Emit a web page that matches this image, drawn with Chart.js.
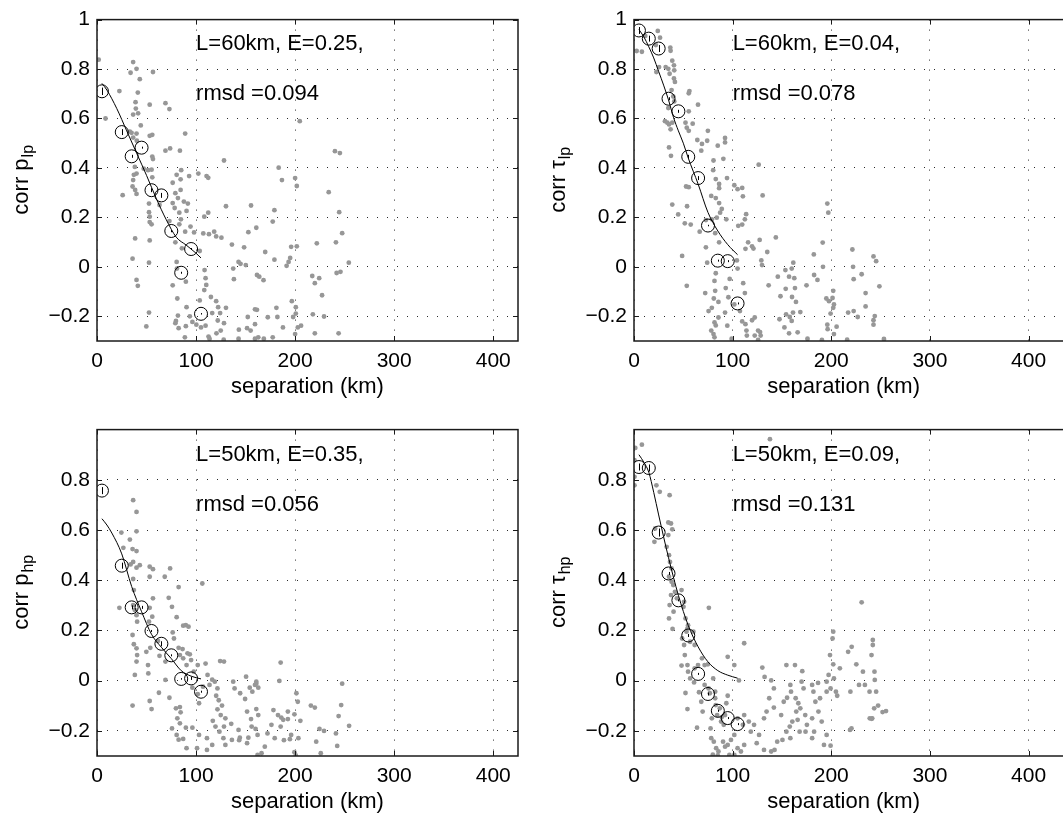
<!DOCTYPE html>
<html>
<head>
<meta charset="utf-8">
<title>corr vs separation</title>
<style>
  html, body { margin: 0; padding: 0; background: #fff; overflow: hidden; width: 1063px; height: 818px; position: relative; }
  canvas { position: absolute; }
</style>
</head>
<body>
<canvas id="tl" width="530" height="410" style="left:0;top:0"></canvas>
<canvas id="tr" width="560" height="410" style="left:530px;top:0"></canvas>
<canvas id="bl" width="530" height="408" style="left:0;top:410px"></canvas>
<canvas id="br" width="560" height="408" style="left:530px;top:410px"></canvas>

<script src="https://cdn.jsdelivr.net/npm/chart.js@4.4.1/dist/chart.umd.min.js"></script>
<script>
// ---- axes ----
const xTicks = [0, 100, 200, 300, 400];
const yTicksTop = [-0.2, 0, 0.2, 0.4, 0.6, 0.8, 1];
const yTicksBottom = [-0.2, 0, 0.2, 0.4, 0.6, 0.8];
const xTitle = 'separation (km)';

// ---- corr p_lp (top left) ----
const plpDots = [[1.7,0.838],[8.6,0.6],[22.6,0.711],[36.5,0.828],[33.9,0.785],[39.9,0.801],[43.2,0.759],[56.5,0.788],[41.2,0.705],[38.9,0.666],[39.2,0.64],[36.5,0.616],[41.5,0.621],[44.2,0.572],[53.2,0.656],[69.1,0.662],[73.1,0.638],[33.2,0.547],[34.9,0.542],[39.9,0.539],[36.5,0.523],[40.2,0.51],[53.2,0.53],[55.8,0.534],[55.8,0.446],[56.5,0.436],[69.1,0.47],[73.8,0.479],[83.7,0.47],[89,0.539],[128.2,0.43],[38.2,0.404],[37.2,0.372],[39.9,0.377],[36.5,0.351],[35.9,0.325],[38.5,0.311],[39.9,0.295],[25.9,0.29],[47.2,0.397],[51.5,0.391],[55.1,0.393],[55.8,0.362],[76.4,0.34],[80.4,0.372],[85,0.391],[84.4,0.354],[84.4,0.311],[79.1,0.298],[81.7,0.278],[76.4,0.258],[78.4,0.238],[87.7,0.264],[91.7,0.256],[90.4,0.226],[83.1,0.219],[93,0.367],[102.3,0.377],[110.6,0.367],[112.3,0.36],[52.5,0.256],[52.5,0.221],[53.2,0.203],[53.2,0.181],[55.1,0.172],[63.1,0.25],[84.7,0.192],[89,0.142],[94.4,0.163],[83.1,0.172],[73.1,0.185],[79.1,0.099],[85.7,0.075],[38.5,0.115],[53.2,0.107],[35.9,0.033],[52.5,0.017],[39.9,-0.053],[41.2,-0.077],[52.5,-0.185],[49.8,-0.241],[76.4,-0.075],[80.4,0.02],[80.7,-0.007],[89.7,-0.06],[81.1,-0.128],[81.7,-0.197],[90.4,-0.163],[79.7,-0.219],[79.1,-0.228],[89.7,-0.24],[82.4,-0.248],[88.7,-0.285],[93.7,-0.2],[96.3,-0.223],[100.3,-0.234],[105,-0.245],[109.6,-0.238],[112.6,-0.282],[113.6,-0.291],[108.6,-0.013],[109.6,-0.046],[110.3,-0.073],[108.3,-0.094],[103.7,-0.136],[115,-0.122],[122.3,-0.163],[120.3,-0.139],[116.3,-0.187],[124.3,-0.187],[130.2,-0.166],[121.9,-0.217],[128.2,-0.228],[124.9,-0.258],[127.9,-0.295],[120.6,-0.269],[103.7,0.064],[98,0.139],[107.3,0.135],[113,0.132],[118.3,0.142],[120.3,0.123],[125.6,0.118],[112.3,0.219],[108.3,0.203],[130.2,0.245],[136.2,0.09],[137.5,-0.007],[138.2,-0.05],[144.9,0.012],[148.5,0.079],[142.9,0.02],[150.2,0.007],[152.8,0.14],[155.5,0.248],[160.8,0.158],[161.5,-0.033],[163.8,-0.04],[168.1,-0.054],[169.8,0.06],[159.5,-0.172],[161.5,-0.174],[159.5,-0.232],[152.2,-0.203],[151.5,-0.248],[155.1,-0.258],[143.2,-0.254],[142.9,-0.291],[159.5,-0.291],[162.8,-0.285],[168.4,-0.291],[177.4,-0.285],[172.4,-0.204],[181.1,-0.166],[177.4,0.183],[179.1,0.229],[183.4,0.401],[186.7,0.351],[179.1,0.029],[191.4,0.004],[193.4,0.02],[195,0.036],[196,0.081],[200,0.359],[201.7,0.327],[201.7,0.083],[204.7,0.589],[196.7,-0.139],[200.7,-0.163],[200.7,-0.189],[198,-0.203],[202.7,-0.245],[206,-0.238],[200,-0.272],[187.7,-0.245],[182.1,-0.203],[217.3,-0.037],[217.9,-0.192],[219.9,-0.066],[224.3,-0.046],[227.2,-0.115],[229.2,-0.201],[219.9,-0.269],[221.9,0.095],[233.9,0.302],[240.2,0.468],[245.2,0.46],[244.5,0.221],[247.5,0.136],[241.2,0.099],[241.9,-0.025],[245.8,-0.02],[254.2,0.017],[243.9,-0.269]];
const plpBinX = [5, 25, 35, 45, 55, 65, 75, 85, 95, 105];
const plpBinY = [0.71, 0.545, 0.447, 0.482, 0.31, 0.289, 0.145, -0.024, 0.072, -0.19];
const plpBinErr = [0.015, 0.012, 0.006, 0.004, 0.008, 0.01, 0.005, 0.004, 0.004, 0.003];
const plpFitX = [5, 10, 20, 30, 40, 50, 60, 70, 80, 90, 100, 105];
const plpFitY = [0.742, 0.715, 0.64, 0.55, 0.46, 0.37, 0.275, 0.19, 0.12, 0.088, 0.055, 0.036];
const plpText = ['L=60km, E=0.25,', 'rmsd =0.094'];

// ---- corr tau_lp (top right) ----
const tlpDots = [[2.7,0.873],[8,0.87],[11.4,0.934],[24.1,0.954],[26.4,0.927],[22.1,0.897],[22.7,0.788],[25.4,0.808],[32.1,0.808],[34.8,0.801],[36.8,0.887],[37.1,0.874],[38.8,0.834],[36.1,0.781],[40.5,0.815],[40.8,0.795],[40.5,0.762],[41.5,0.748],[38.1,0.715],[39.8,0.689],[40.8,0.669],[34.8,0.642],[31.4,0.589],[33.8,0.583],[35.5,0.576],[37.1,0.556],[38.8,0.583],[56.2,0.711],[55.5,0.702],[64.9,0.656],[55.5,0.629],[52.2,0.583],[53.5,0.563],[55.5,0.55],[59.5,0.579],[74.9,0.55],[74.2,0.51],[84.9,0.49],[92.3,0.521],[92.3,0.503],[64.2,0.513],[68.9,0.497],[68.2,0.47],[80.6,0.43],[90.6,0.437],[35.5,0.483],[37.5,0.449],[126.4,0.413],[80.3,0.391],[82.9,0.355],[86.3,0.335],[94.3,0.359],[86.3,0.318],[78.3,0.287],[82.9,0.278],[86.3,0.258],[89,0.234],[101.7,0.33],[105,0.314],[109.7,0.319],[52.8,0.325],[55.5,0.322],[38.8,0.252],[44.8,0.212],[53.8,0.245],[51.5,0.176],[57.5,0.171],[66.6,0.142],[72.9,0.189],[78.9,0.192],[83.9,0.199],[87.3,0.219],[93.6,0.192],[82.3,0.136],[86.3,0.099],[72.9,0.079],[74.2,0.017],[48.8,0.044],[53.5,-0.077],[82.9,-0.026],[81.6,-0.057],[82.3,-0.097],[80.9,-0.128],[85.6,-0.142],[93,-0.086],[95.7,-0.123],[97,-0.049],[72.2,-0.106],[75.6,-0.179],[78.9,-0.166],[81.6,-0.225],[82.9,-0.237],[78.3,-0.258],[80.6,-0.272],[81.6,-0.285],[85.6,-0.205],[92.3,-0.185],[94.6,-0.238],[99,-0.291],[101.7,-0.152],[110.7,-0.066],[112.4,-0.106],[107.4,-0.179],[109.7,-0.221],[113,-0.232],[119.7,-0.216],[122.4,-0.205],[114,-0.258],[114.4,-0.278],[122.4,-0.278],[125.8,-0.258],[127.8,-0.264],[128.4,-0.278],[125.8,-0.296],[104.3,0.026],[105,-0.007],[113,0.073],[115.7,0.099],[119.7,0.083],[121.1,0.074],[105.7,0.166],[109.7,0.171],[112.4,0.192],[113.7,0.213],[110.4,0.285],[130.4,0.289],[127.4,0.109],[135.1,0.06],[129.1,0.026],[129.8,0.007],[143.8,0.119],[136.5,-0.075],[145.8,-0.04],[148.5,-0.119],[153.5,-0.013],[157.2,-0.04],[159.9,-0.007],[161.5,0.017],[162.5,-0.046],[163.2,-0.086],[160.2,-0.122],[164.2,-0.142],[174.9,-0.075],[153.8,-0.089],[154.2,-0.192],[157.9,-0.203],[161.2,-0.185],[168.6,-0.183],[159.9,-0.219],[147.5,-0.212],[152.5,-0.245],[157.2,-0.269],[165.9,-0.265],[175.9,-0.291],[182.3,0.05],[191.3,0.098],[196,0.256],[197,0.219],[191.6,0],[186,-0.053],[182.6,-0.033],[197.7,-0.139],[195,-0.128],[202,-0.097],[201.3,-0.126],[202,-0.166],[202.7,-0.152],[199.3,-0.189],[196,-0.234],[196.3,-0.252],[205.4,-0.242],[202.7,-0.272],[190.5,-0.296],[221.4,0.07],[222.7,-0.05],[222.1,0],[230.8,-0.03],[234.8,-0.106],[234.8,-0.16],[217.1,-0.185],[222.7,-0.179],[226.8,-0.203],[242.8,0.042],[245.5,0.023],[248.8,-0.079],[242.8,-0.216],[242.8,-0.234],[244.1,-0.199],[216.1,-0.295],[253.4,-0.292]];
const tlpBinX = [5, 15, 25, 35, 45, 55, 65, 75, 85, 95, 105];
const tlpBinY = [0.956, 0.923, 0.883, 0.68, 0.629, 0.445, 0.359, 0.167, 0.025, 0.023, -0.148];
const tlpBinErr = [0.014, 0.012, 0.014, 0.006, 0.006, 0.008, 0.008, 0.003, 0.004, 0.004, 0.004];
const tlpFitX = [5, 10, 15, 20, 25, 30, 35, 40, 45, 50, 55, 65, 75, 85, 95, 105];
const tlpFitY = [0.96, 0.93, 0.89, 0.845, 0.79, 0.735, 0.675, 0.605, 0.55, 0.5, 0.44, 0.335, 0.22, 0.145, 0.09, 0.049];
const tlpText = ['L=60km, E=0.04,', 'rmsd =0.078'];

// ---- corr p_hp (bottom left) ----
const phpDots = [[36.5,0.719],[39.9,0.672],[39.9,0.595],[24.6,0.59],[26.6,0.529],[33.2,0.562],[35.9,0.524],[39.9,0.516],[36.5,0.473],[33.9,0.463],[39.9,0.45],[43.2,0.46],[53.2,0.454],[56.5,0.444],[53.2,0.414],[73.8,0.447],[68.4,0.414],[36.5,0.405],[37.2,0.361],[82.4,0.373],[106.3,0.387],[22.6,0.29],[36.5,0.301],[38.2,0.281],[39.9,0.261],[40.5,0.235],[56.5,0.328],[53.2,0.29],[55.8,0.255],[52.5,0.235],[72.4,0.33],[75.7,0.294],[80.4,0.253],[87,0.219],[89.7,0.221],[92.4,0.215],[76.4,0.192],[77.7,0.168],[35.9,0.182],[37.2,0.145],[39.9,0.129],[40.5,0.102],[39.9,0.076],[38.2,0.023],[49.8,0.115],[53.8,0.131],[51.5,0.062],[51.8,0.029],[61.5,0.158],[63.1,0.099],[69.1,0.076],[69.1,0.003],[82.4,0.131],[83.7,0.102],[86.4,0.126],[87,0.089],[91.4,0.109],[93.7,0.105],[90.4,0.062],[95,0.082],[97.7,0.036],[101.7,0.062],[109.6,0.068],[111.6,0.023],[124.3,0.078],[128.2,0.076],[150.5,0.016],[160.8,-0.012],[162.8,-0.028],[185.4,0.072],[184.1,-0.001],[247.5,-0.012],[62.5,-0.048],[53.2,-0.081],[55.1,-0.113],[35.9,-0.099],[73.1,-0.068],[79.7,-0.11],[83.7,-0.105],[84.4,-0.126],[81.1,-0.15],[83.7,-0.17],[75.7,-0.19],[80.4,-0.216],[82.4,-0.235],[89.7,-0.187],[96.3,-0.187],[87,-0.232],[90.4,-0.269],[96.3,-0.028],[101.7,-0.054],[103,-0.09],[107,-0.024],[113.6,-0.017],[116.3,0.004],[118.9,-0.004],[121.6,-0.031],[120.3,-0.06],[122.9,-0.078],[126.2,-0.099],[121.6,-0.114],[124.9,-0.137],[116.9,-0.16],[119.6,-0.183],[123.6,-0.203],[128.2,-0.183],[129.6,-0.15],[135.5,-0.172],[137.5,-0.004],[138.9,-0.031],[144.5,-0.05],[149.5,-0.073],[154.2,-0.028],[156.8,-0.044],[159.5,-0.017],[160.8,-0.004],[151.5,-0.123],[155.5,-0.153],[160.8,-0.113],[162.8,-0.137],[156.1,-0.183],[160.1,-0.192],[162.1,-0.216],[142.9,-0.196],[144.2,-0.227],[143.5,-0.237],[152.8,-0.227],[151.5,-0.249],[136.2,-0.236],[127.6,-0.229],[129.6,-0.256],[116.3,-0.256],[111,-0.229],[103,-0.216],[111,-0.276],[101,-0.269],[169.4,-0.263],[166.1,-0.289],[162.1,-0.296],[172.1,-0.21],[176.1,-0.176],[178.1,-0.117],[182.7,-0.137],[186,-0.147],[188,-0.156],[185.4,-0.183],[192.7,-0.153],[192.7,-0.123],[199.3,-0.134],[201.3,-0.05],[202.7,-0.084],[205.3,-0.16],[196,-0.216],[194.7,-0.233],[203.3,-0.229],[199.3,-0.285],[200.7,-0.298],[215.9,-0.099],[219.9,-0.107],[224.6,-0.192],[229.2,-0.2],[221.3,-0.243],[225.9,-0.289],[241.2,-0.21],[243.9,-0.141],[246.5,-0.097],[254.5,-0.18],[242.5,-0.26],[188.7,-0.237],[179.4,-0.229]];
const phpBinX = [5, 25, 35, 45, 55, 65, 75, 85, 95, 105];
const phpBinY = [0.757, 0.458, 0.292, 0.292, 0.198, 0.147, 0.101, 0.007, 0.009, -0.044];
const phpBinErr = [0.014, 0.012, 0.008, 0.006, 0.004, 0.01, 0.004, 0.003, 0.006, 0.004];
const phpFitX = [5, 10, 15, 25, 35, 45, 55, 65, 75, 85, 95, 105];
const phpFitY = [0.645, 0.62, 0.588, 0.505, 0.375, 0.275, 0.185, 0.133, 0.088, 0.04, 0.018, 0.007];
const phpText = ['L=50km, E=0.35,', 'rmsd =0.056'];

// ---- corr tau_hp (bottom right) ----
const thpDots = [[1.3,0.927],[8,0.94],[0.5,0.812],[0.5,0.778],[0.5,0.878],[137.8,0.962],[22.7,0.778],[26.1,0.752],[36.1,0.739],[34.8,0.63],[37.5,0.626],[38.8,0.603],[21.4,0.606],[20.7,0.553],[34.8,0.58],[33.1,0.533],[35.5,0.5],[36.5,0.473],[38.1,0.447],[35.5,0.414],[38.1,0.394],[39.8,0.381],[41.5,0.354],[37.5,0.341],[36.1,0.301],[35.5,0.248],[39.1,0.206],[40.1,0.275],[43.5,0.328],[48.2,0.361],[50.8,0.314],[50.2,0.294],[52.2,0.248],[54.8,0.221],[54.2,0.208],[53.2,0.195],[48.8,0.168],[50.8,0.142],[51.5,0.102],[48.2,0.06],[56.9,0.155],[75.9,0.29],[60.2,0.195],[61.5,0.142],[54.2,0.062],[54.8,0.036],[61.5,0.049],[64.9,0.062],[68.9,0.089],[71.6,0.062],[74.9,0.065],[56.9,0.009],[60.9,-0.007],[65.9,-0.046],[68.2,-0.084],[69.6,-0.123],[52.2,-0.049],[54.2,-0.113],[63.9,-0.187],[71.6,-0.017],[75.6,-0.031],[76.9,-0.05],[80.3,0.009],[82.3,-0.044],[82.3,-0.07],[82.9,-0.097],[84.3,-0.137],[87,-0.11],[89,-0.145],[91,-0.176],[88.3,-0.163],[92.3,-0.137],[93.6,-0.09],[95,-0.06],[78.9,-0.15],[77.6,-0.19],[78.3,-0.229],[80.9,-0.243],[83.3,-0.269],[85.6,-0.282],[79.9,-0.295],[84.9,-0.298],[90.3,-0.243],[92.3,-0.263],[95,-0.256],[98.3,-0.236],[101.7,-0.216],[96.7,-0.296],[101.7,-0.296],[105,-0.269],[108.4,-0.282],[111.7,-0.256],[105,-0.15],[111.7,-0.137],[110.4,-0.176],[116.4,-0.163],[106.4,0.001],[111.7,0.149],[95,0.095],[101.7,0.062],[130.1,0.052],[132.4,0.015],[139.1,0.001],[141.8,-0.031],[137.1,-0.07],[134.4,-0.123],[131.8,-0.15],[141.8,-0.107],[149.2,-0.137],[151.8,-0.084],[155.2,-0.068],[154.5,0.062],[163.2,0.062],[158.5,-0.017],[159.2,-0.044],[163.9,-0.07],[166.6,-0.09],[164.5,-0.123],[165.9,-0.156],[160.5,-0.163],[157.9,-0.183],[154.5,-0.203],[158.5,-0.229],[150.5,-0.236],[145.2,-0.243],[142.5,-0.276],[139.1,-0.282],[131.8,-0.276],[124.4,-0.249],[126.8,-0.216],[118.4,-0.203],[121.7,-0.176],[170.6,0.038],[169.9,-0.004],[171.9,-0.031],[168.6,-0.11],[173.6,-0.137],[175.3,-0.176],[173.9,-0.203],[167.9,-0.203],[180.6,-0.017],[181.9,-0.044],[186.6,-0.009],[183.9,-0.084],[188.6,-0.07],[187,-0.123],[180.6,-0.15],[182.6,-0.203],[180.6,-0.229],[190.3,-0.163],[192.6,-0.256],[195.3,-0.004],[195.3,-0.044],[198.7,0.102],[197.3,0.023],[199.3,-0.031],[202,0.195],[201.3,0.168],[202,0.065],[202.7,0.009],[204.7,-0.044],[206,-0.06],[208.7,0.049],[195.3,-0.216],[199.3,-0.259],[217.1,0.115],[220.7,0.135],[225.4,0.065],[232.1,0.036],[230.8,0.312],[234.1,-0.017],[240.8,0.102],[242.1,0.162],[242.1,0.142],[243.8,0.036],[244.1,0.003],[245.5,-0.044],[241.5,-0.15],[243.5,-0.11],[247.5,-0.099],[255.5,-0.121],[238.8,-0.044],[228.1,-0.017],[219.4,-0.044],[239,-0.15],[241,-0.152],[219,-0.196],[220.5,-0.19],[252,-0.125]];
const thpBinX = [5, 15, 25, 35, 45, 55, 65, 75, 85, 95, 105];
const thpBinY = [0.851, 0.847, 0.59, 0.427, 0.32, 0.18, 0.027, -0.053, -0.12, -0.149, -0.173];
const thpBinErr = [0.014, 0.014, 0.016, 0.006, 0.004, 0.006, 0.004, 0.006, 0.004, 0.004, 0.004];
const thpFitX = [5, 10, 15, 20, 25, 35, 45, 55, 65, 75, 85, 95, 105];
const thpFitY = [0.9, 0.87, 0.83, 0.75, 0.66, 0.49, 0.34, 0.22, 0.135, 0.075, 0.04, 0.022, 0.01];
const thpText = ['L=50km, E=0.09,', 'rmsd =0.131'];

const FONT = '"Liberation Sans", Arial, Helvetica, sans-serif';
const DOT = '#979797';

function fmt(v) {
  if (v < 0) return '\u2212' + String(Math.abs(v));
  return String(v);
}

// box, inside ticks, error bars, labels
const deco = {
  id: 'deco',
  afterDatasetsDraw(chart, args, o) {
    const {ctx, scales: {x, y}} = chart;
    ctx.save();
    ctx.strokeStyle = '#000';
    ctx.lineWidth = 1;
    o.binX.forEach((bx, i) => {
      const px = Math.round(x.getPixelForValue(bx)) + 0.5;
      ctx.beginPath();
      ctx.moveTo(px, y.getPixelForValue(o.binY[i] - o.err[i]));
      ctx.lineTo(px, y.getPixelForValue(o.binY[i] + o.err[i]));
      ctx.stroke();
    });
    ctx.restore();
  },
  afterDraw(chart, args, o) {
    const {ctx, chartArea: a, scales: {x, y}} = chart;
    ctx.save();
    ctx.strokeStyle = '#1a1a1a';
    ctx.lineWidth = 1;
    ctx.beginPath();
    x.ticks.forEach(t => {
      const px = Math.round(x.getPixelForValue(t.value)) + 0.5;
      ctx.moveTo(px, a.bottom); ctx.lineTo(px, a.bottom - 5);
      ctx.moveTo(px, a.top); ctx.lineTo(px, a.top + 5);
    });
    y.ticks.forEach(t => {
      const py = Math.round(y.getPixelForValue(t.value)) + 0.5;
      ctx.moveTo(a.left, py); ctx.lineTo(a.left + 5, py);
      ctx.moveTo(a.right, py); ctx.lineTo(a.right - 5, py);
    });
    ctx.stroke();
    ctx.lineWidth = 1.5;
    ctx.strokeRect(a.left, a.top, a.right - a.left, a.bottom - a.top);

    ctx.fillStyle = '#000';
    ctx.font = '22px ' + FONT;
    ctx.textAlign = 'left';
    ctx.textBaseline = 'middle';
    ctx.fillText(o.text[0], x.getPixelForValue(100), y.getPixelForValue(0.9));
    ctx.fillText(o.text[1], x.getPixelForValue(100), y.getPixelForValue(0.7));

    ctx.textAlign = 'center';
    ctx.fillText(xTitle, (x.getPixelForValue(0) + x.getPixelForValue(425)) / 2, a.bottom + 46);

    ctx.translate(a.left - 75, (a.top + a.bottom) / 2);
    ctx.rotate(-Math.PI / 2);
    ctx.textAlign = 'left';
    const w1 = ctx.measureText(o.yTitle[0]).width;
    ctx.font = '16px ' + FONT;
    const w2 = ctx.measureText(o.yTitle[1]).width;
    const s = -(w1 + w2) / 2;
    ctx.font = '22px ' + FONT;
    ctx.fillText(o.yTitle[0], s, 0);
    ctx.font = '16px ' + FONT;
    ctx.fillText(o.yTitle[1], s + w1 + 1, 7);
    ctx.restore();
  }
};

function panel(id, p) {
  new Chart(document.getElementById(id), {
    type: 'scatter',
    data: {
      datasets: [
        {
          data: p.binX.map((x, i) => ({x: x, y: p.binY[i]})),
          pointRadius: 6.5, pointBorderWidth: 1,
          pointBorderColor: '#000', pointBackgroundColor: 'rgba(0,0,0,0)',
          order: 1
        },
        {
          type: 'line',
          data: p.fitX.map((x, i) => ({x: x, y: p.fitY[i]})),
          borderColor: '#000', borderWidth: 1, pointRadius: 0, fill: false,
          cubicInterpolationMode: 'monotone',
          order: 2
        },
        {
          data: p.dots.map(d => ({x: d[0], y: d[1]})),
          pointRadius: 2.4, pointBorderWidth: 0,
          pointBackgroundColor: DOT, pointBorderColor: DOT,
          order: 3
        }
      ]
    },
    options: {
      responsive: false,
      animation: false,
      devicePixelRatio: 1,
      layout: {padding: p.pad},
      plugins: {
        legend: {display: false},
        tooltip: {enabled: false},
        deco: {binX: p.binX, binY: p.binY, err: p.err, text: p.text, yTitle: p.yTitle}
      },
      scales: {
        x: {
          type: 'linear', min: 0, max: p.xMax,
          afterBuildTicks: s => { s.ticks = xTicks.map(v => ({value: v})); },
          afterFit: s => { s.height = p.xH; },
          grid: {color: '#2a2a2a', lineWidth: 1, drawTicks: false},
          border: {display: false, dash: [1, 9]},
          ticks: {padding: 8, maxRotation: 0, color: '#000', font: {family: FONT, size: 21}, callback: v => fmt(v)}
        },
        y: {
          type: 'linear', min: -0.3, max: 1,
          afterBuildTicks: s => { s.ticks = p.yTicks.map(v => ({value: v})); },
          afterFit: s => { s.width = p.yW; },
          grid: {color: '#2a2a2a', lineWidth: 1, drawTicks: false},
          border: {display: false, dash: [1, 9]},
          ticks: {padding: 7, color: '#000', font: {family: FONT, size: 21}, callback: v => fmt(v)}
        }
      }
    },
    plugins: [deco]
  });
}

panel('tl', {dots: plpDots, binX: plpBinX, binY: plpBinY, err: plpBinErr, fitX: plpFitX, fitY: plpFitY,
  text: plpText, yTitle: ['corr p', 'lp'], yTicks: yTicksTop, xMax: 425,
  pad: {left: 0, top: 14, right: 12, bottom: 0}, yW: 97, xH: 69});
panel('tr', {dots: tlpDots, binX: tlpBinX, binY: tlpBinY, err: tlpBinErr, fitX: tlpFitX, fitY: tlpFitY,
  text: tlpText, yTitle: ['corr \u03c4', 'lp'], yTicks: yTicksTop, xMax: 440,
  pad: {left: 0, top: 14, right: 22, bottom: 0}, yW: 104, xH: 69});
panel('bl', {dots: phpDots, binX: phpBinX, binY: phpBinY, err: phpBinErr, fitX: phpFitX, fitY: phpFitY,
  text: phpText, yTitle: ['corr p', 'hp'], yTicks: yTicksBottom, xMax: 425,
  pad: {left: 0, top: 19, right: 12, bottom: 0}, yW: 97, xH: 62});
panel('br', {dots: thpDots, binX: thpBinX, binY: thpBinY, err: thpBinErr, fitX: thpFitX, fitY: thpFitY,
  text: thpText, yTitle: ['corr \u03c4', 'hp'], yTicks: yTicksBottom, xMax: 440,
  pad: {left: 0, top: 19, right: 22, bottom: 0}, yW: 104, xH: 62});
</script>
</body>
</html>
